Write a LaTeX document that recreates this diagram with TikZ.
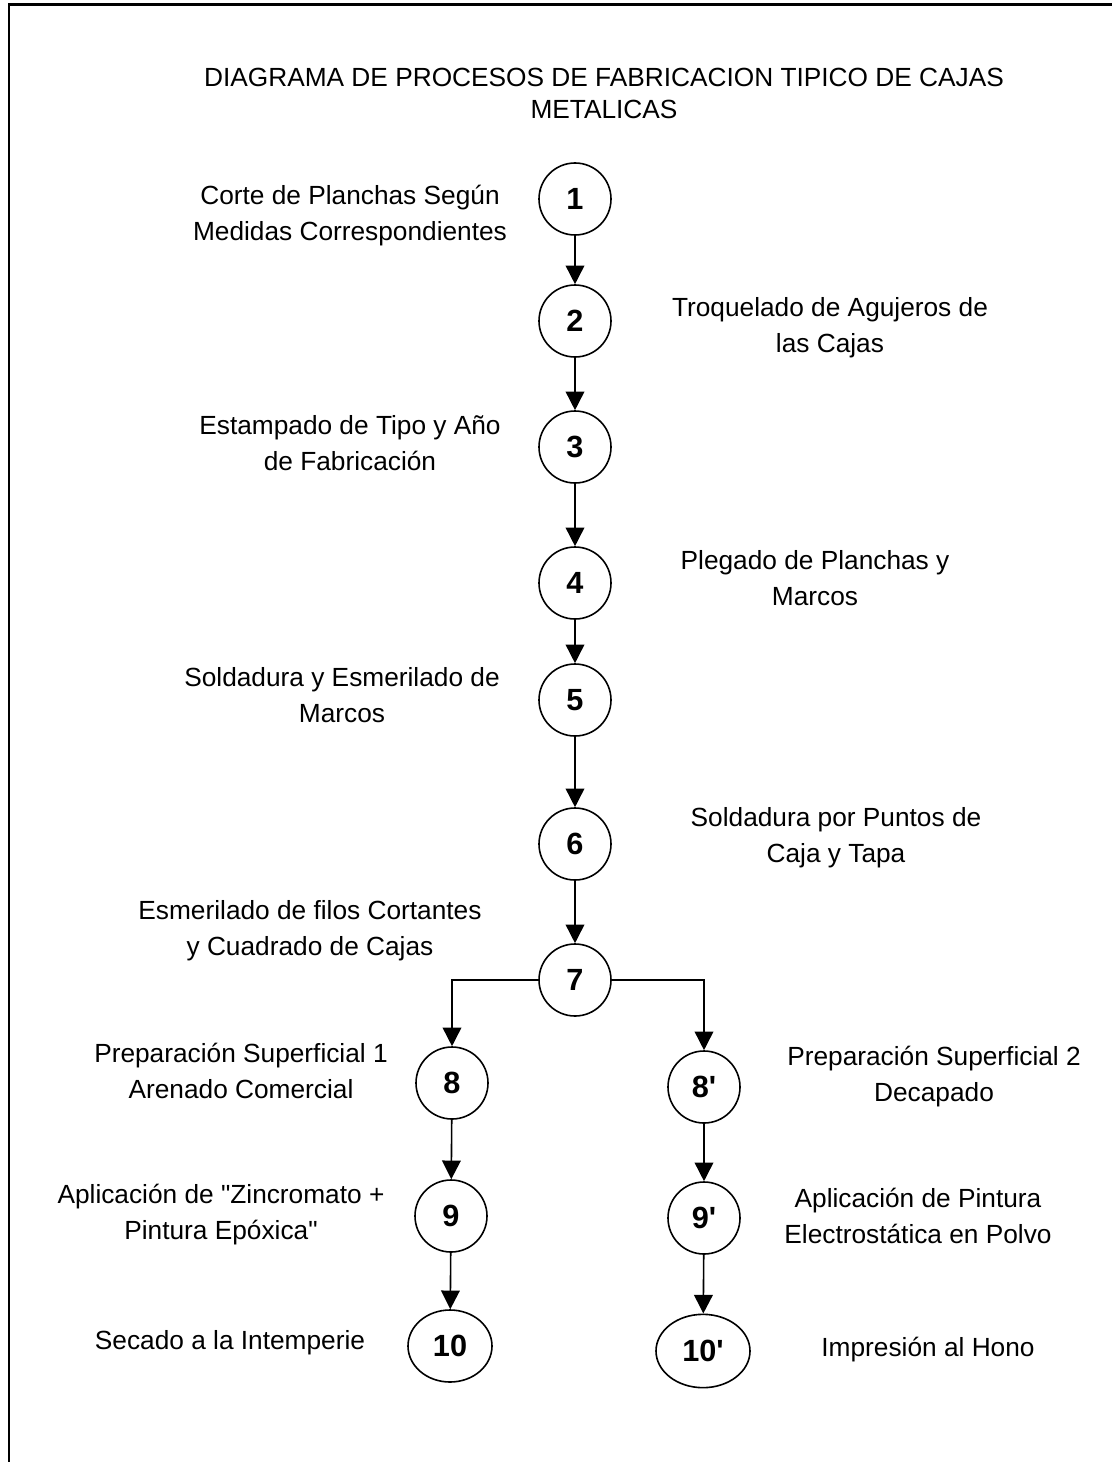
\documentclass[tikz,border=0pt]{standalone}
\usepackage{fontspec}
% straight quote marks are kept as typed
\setmainfont{Liberation Sans}[Ligatures=TeXOff]
\usetikzlibrary{arrows.meta,shapes.geometric}

\tikzset{
  stage/.style={circle, draw, line width=1.2pt, minimum size=54pt, inner sep=0pt,
    font=\fontsize{23pt}{27pt}\selectfont\bfseries},
  finalstage/.style={ellipse, draw, line width=1.2pt, inner sep=0pt,
    font=\fontsize{23pt}{27pt}\selectfont\bfseries},
  caption/.style={align=center, inner sep=0pt,
    font=\fontsize{19.7pt}{27pt}\selectfont},
  flow/.style={line width=1.2pt, -{Triangle[length=14pt,width=14pt]}},
}

\begin{document}
\begin{tikzpicture}[x=0.75pt,y=-0.75pt]
  \useasboundingbox (0,0) rectangle (1112,1462);

  % frame (runs past the page on the right and bottom)
  \draw[line width=1.6pt] (1130,4.5) -- (9,4.5) -- (9,1480);

  % heading
  \node[caption, font=\fontsize{19.7pt}{24pt}\selectfont] (title) at (604,93)
    {DIAGRAMA DE PROCESOS DE FABRICACION TIPICO DE CAJAS\\METALICAS};

  % main column
  \node[stage] (s1) at (575,199) {1};
  \node[stage] (s2) at (575,321) {2};
  \node[stage] (s3) at (575,447) {3};
  \node[stage] (s4) at (575,583) {4};
  \node[stage] (s5) at (575,700) {5};
  \node[stage] (s6) at (575,844) {6};
  \node[stage] (s7) at (575,980) {7};

  % left branch
  \node[stage] (s8) at (452,1083) {8};
  \node[stage] (s9) at (451,1216) {9};
  \node[finalstage, minimum width=63pt, minimum height=54pt] (s10) at (450,1346) {10};

  % right branch
  \node[stage] (p8) at (704,1087) {8'};
  \node[stage] (p9) at (704,1218) {9'};
  \node[finalstage, minimum width=70.5pt, minimum height=55pt] (p10) at (703,1351) {10'};

  % branch corners
  \coordinate (bl) at (452,980);
  \coordinate (br) at (704,980);

  % connectors
  \draw[flow] (s1) -- (s2);
  \draw[flow] (s2) -- (s3);
  \draw[flow] (s3) -- (s4);
  \draw[flow] (s4) -- (s5);
  \draw[flow] (s5) -- (s6);
  \draw[flow] (s6) -- (s7);
  \draw[flow] (s7.west) -- (bl) -- (s8.north);
  \draw[flow] (s7.east) -- (br) -- (p8.north);
  \draw[flow] (s8) -- (s9);
  \draw[flow] (s9) -- (s10);
  \draw[flow] (p8) -- (p9);
  \draw[flow] (p9) -- (p10);

  % step descriptions
  \node[caption] (t1) at (350,216) {Corte de Planchas Según\\Medidas Correspondientes};
  \node[caption] (t2) at (830,328) {Troquelado de Agujeros de\\las Cajas};
  \node[caption] (t3) at (350,443) {Estampado de Tipo y Año\\de Fabricación};
  \node[caption] (t4) at (815,578) {Plegado de Planchas y\\Marcos};
  \node[caption] (t5) at (342,695) {Soldadura y Esmerilado de\\Marcos};
  \node[caption] (t6) at (836,838) {Soldadura por Puntos de\\Caja y Tapa};
  \node[caption] (t7) at (310,931) {Esmerilado de filos Cortantes\\y Cuadrado de Cajas};
  \node[caption] (t8) at (241,1071) {Preparación Superficial 1\\Arenado Comercial};
  \node[caption] (u8) at (934,1077) {Preparación Superficial 2\\Decapado};
  \node[caption] (t9) at (221,1215) {Aplicación de "Zincromato +\\Pintura Epóxica"};
  \node[caption] (u9) at (918,1216) {Aplicación de Pintura\\Electrostática en Polvo};
  \node[caption] (t10) at (230,1343) {Secado a la Intemperie};
  \node[caption] (u10) at (928,1350) {Impresión al Hono};
\end{tikzpicture}
\end{document}
